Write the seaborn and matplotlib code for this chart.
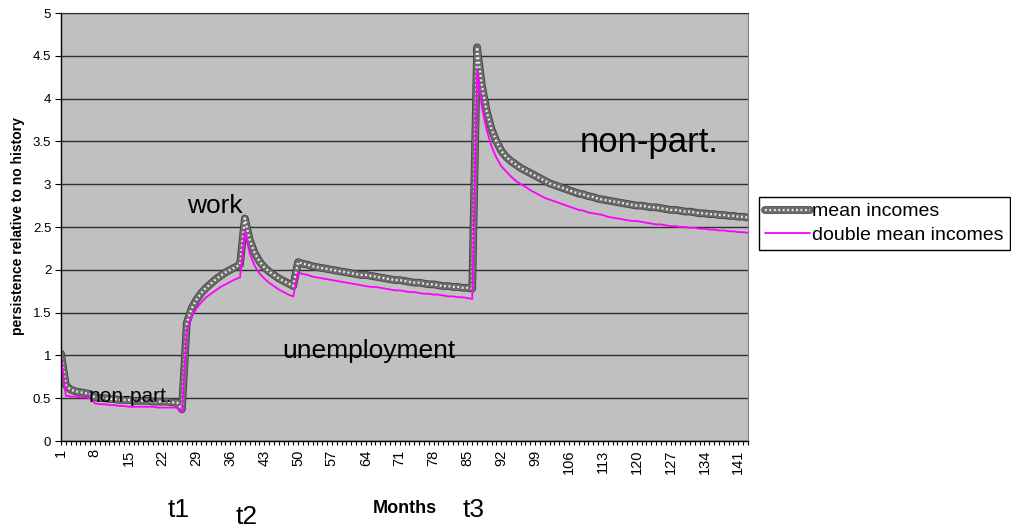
import pandas as pd
import matplotlib
matplotlib.use('Agg')
import matplotlib.pyplot as plt
import matplotlib.patheffects as pe
from matplotlib.ticker import FixedLocator, MultipleLocator, FuncFormatter
import seaborn as sns

sns.set_style('white')
plt.rcParams['font.family'] = ['Liberation Sans', 'DejaVu Sans']
plt.rcParams['text.color'] = 'black'
plt.rcParams['axes.labelcolor'] = 'black'
plt.rcParams['xtick.color'] = 'black'
plt.rcParams['ytick.color'] = 'black'

# data (months 1..143)
months = list(range(1, 144))

mean_incomes = [
    1.02, 0.65, 0.60, 0.58, 0.57, 0.56, 0.55, 0.51, 0.50, 0.50,
    0.49, 0.49, 0.48, 0.48, 0.48, 0.47, 0.47, 0.47, 0.47, 0.46,
    0.46, 0.46, 0.46, 0.45, 0.45, 0.37,
    1.38, 1.55, 1.65, 1.73, 1.79, 1.84, 1.89, 1.93, 1.97, 2.00, 2.03, 2.06,
    2.60, 2.35, 2.20, 2.10, 2.03, 1.98, 1.94, 1.90, 1.87, 1.84, 1.81,
    2.09, 2.07, 2.06, 2.04, 2.03, 2.02, 2.01, 2.00, 1.99, 1.98,
    1.97, 1.96, 1.95, 1.94, 1.94, 1.93, 1.92, 1.91, 1.90, 1.89,
    1.88, 1.88, 1.87, 1.86, 1.85, 1.85, 1.84, 1.83, 1.83, 1.82,
    1.81, 1.81, 1.80, 1.80, 1.79, 1.79, 1.78,
    4.60, 4.15, 3.85, 3.64, 3.50, 3.39, 3.32, 3.27, 3.23, 3.19,
    3.16, 3.13, 3.10, 3.07, 3.04, 3.01, 2.99, 2.97, 2.95, 2.93,
    2.91, 2.89, 2.88, 2.86, 2.85, 2.83, 2.82, 2.81, 2.80, 2.79,
    2.78, 2.77, 2.76, 2.75, 2.75, 2.74, 2.73, 2.73, 2.72, 2.71,
    2.70, 2.70, 2.69, 2.68, 2.68, 2.67, 2.66, 2.66, 2.65, 2.65,
    2.64, 2.64, 2.63, 2.63, 2.62, 2.62, 2.61,
]

double_mean_incomes = [
    1.00, 0.53, 0.52, 0.52, 0.51, 0.51, 0.50, 0.44, 0.43, 0.43,
    0.42, 0.42, 0.41, 0.41, 0.40, 0.40, 0.40, 0.40, 0.40, 0.40,
    0.39, 0.39, 0.39, 0.39, 0.39, 0.33,
    1.30, 1.45, 1.55, 1.62, 1.68, 1.72, 1.76, 1.80, 1.83, 1.86, 1.89, 1.91,
    2.46, 2.19, 2.05, 1.96, 1.90, 1.85, 1.81, 1.77, 1.74, 1.71, 1.69,
    1.97, 1.95, 1.94, 1.92, 1.91, 1.90, 1.89, 1.88, 1.87, 1.86,
    1.85, 1.84, 1.83, 1.82, 1.81, 1.80, 1.80, 1.79, 1.78, 1.77,
    1.76, 1.76, 1.75, 1.74, 1.74, 1.73, 1.72, 1.72, 1.71, 1.71,
    1.70, 1.69, 1.69, 1.68, 1.68, 1.67, 1.66,
    4.33, 3.90, 3.63, 3.44, 3.31, 3.21, 3.15, 3.09, 3.04, 3.00,
    2.97, 2.93, 2.90, 2.87, 2.84, 2.82, 2.80, 2.78, 2.76, 2.74,
    2.72, 2.70, 2.69, 2.67, 2.66, 2.65, 2.64, 2.62, 2.61, 2.60,
    2.59, 2.58, 2.57, 2.57, 2.56, 2.55, 2.54, 2.53, 2.53, 2.52,
    2.51, 2.51, 2.50, 2.50, 2.49, 2.49, 2.48, 2.48, 2.47, 2.47,
    2.46, 2.46, 2.45, 2.45, 2.44, 2.44, 2.43,
]

month_labels = list(range(1, 144, 7))
y_ticks = [0, 0.5, 1, 1.5, 2, 2.5, 3, 3.5, 4, 4.5, 5]

df = pd.DataFrame({
    'month': months,
    'mean incomes': mean_incomes,
    'double mean incomes': double_mean_incomes,
})

W, H = 1011, 531
fig = plt.figure(figsize=(W / 100, H / 100), dpi=100)
ax = fig.add_axes([61 / W, 1 - 441 / H, (748 - 61) / W, (441 - 13) / H])
ax.set_facecolor('#C0C0C0')

# textured thick line for "mean incomes"
sns.lineplot(data=df, x='month', y='mean incomes', color='#6c6c6c', lw=4.5, ax=ax,
             path_effects=[pe.Stroke(linewidth=5.5, foreground='#3a3a3a'), pe.Normal()])
sns.lineplot(data=df, x='month', y='mean incomes', color='#f2f2f2', lw=1.6,
             linestyle=(0, (0.8, 1.2)), ax=ax)
sns.lineplot(data=df, x='month', y='double mean incomes', color='#FF00FF', lw=1.3, ax=ax)

ax.set_xlim(1, 143)
ax.set_ylim(0, 5)
ax.yaxis.grid(True, color='#303030', lw=1)
ax.xaxis.grid(False)
ax.set_axisbelow(True)

ax.xaxis.set_major_locator(FixedLocator(month_labels))
ax.xaxis.set_minor_locator(MultipleLocator(1))
ax.xaxis.set_major_formatter(FuncFormatter(lambda v, p: '{:d}'.format(int(round(v)))))
ax.set_yticks(y_ticks)
ax.yaxis.set_major_formatter(FuncFormatter(lambda v, p: '{:g}'.format(v)))
ax.tick_params(axis='y', labelsize=9.5, left=True, length=4, width=0.8, color='black', direction='out', pad=3)
ax.tick_params(axis='x', which='both', bottom=True, length=3, width=0.8, color='black', direction='out', pad=3)
ax.tick_params(axis='x', which='major', labelsize=10.5, labelrotation=90)

for side in ['left', 'bottom']:
    ax.spines[side].set_color('black')
    ax.spines[side].set_linewidth(1)
ax.spines['top'].set_color('#303030')
ax.spines['right'].set_color('#808080')

ax.set_xlabel('Months', fontsize=13, fontweight='bold')
ax.xaxis.set_label_coords(0.5, (441 - 513) / 428)
ax.xaxis.label.set_va('baseline')
ax.set_ylabel('persistence relative to no history', fontsize=10, fontweight='bold')
ax.yaxis.set_label_coords((18 - 61) / 687, (441 - 226) / 428)
ax.yaxis.label.set_va('center')


def ftxt(x, y, s, size):
    fig.text(x / W, 1 - y / H, s, fontsize=size, ha='center', va='baseline', color='black')


ftxt(215, 213, 'work', 19)
ftxt(130, 402, 'non-part.', 15)
ftxt(369, 358, 'unemployment', 19)
ftxt(649, 152, 'non-part.', 25)
ftxt(179, 517, 't1', 19)
ftxt(247, 524, 't2', 19)
ftxt(474, 517, 't3', 19)

lines = ax.get_lines()
leg = ax.legend(handles=[(lines[0], lines[1]), lines[2]],
                labels=['mean incomes', 'double mean incomes'],
                loc='upper left', bbox_to_anchor=(759 / W, 1 - 197 / H),
                bbox_transform=fig.transFigure, frameon=True, fancybox=False,
                edgecolor='black', facecolor='white', framealpha=1, fontsize=14,
                handlelength=2.3, handletextpad=0.15, labelspacing=0.3,
                borderpad=0.3, borderaxespad=0)
leg.get_frame().set_linewidth(1.0)

plt.savefig('out.png', dpi=100)
plt.close('all')
